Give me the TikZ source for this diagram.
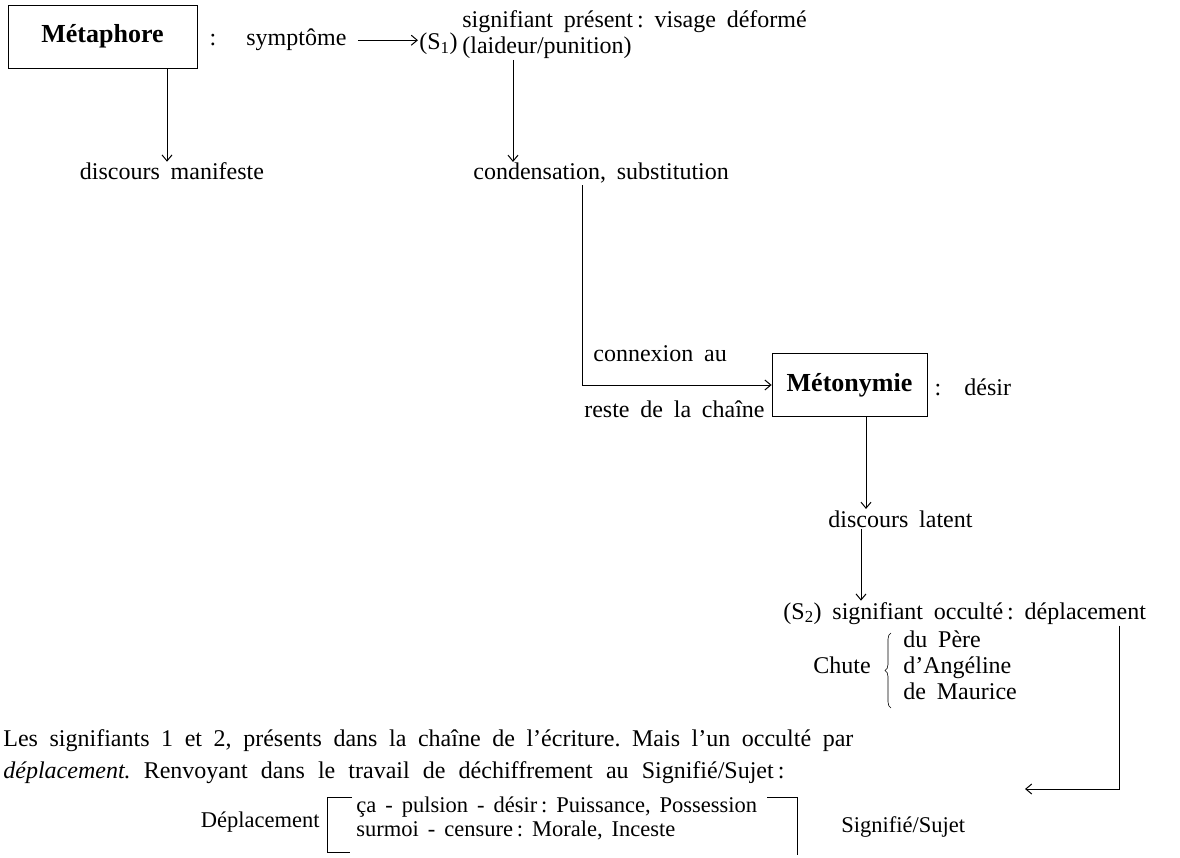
\documentclass[tikz,border=0pt]{standalone}
\usepackage{fontspec}
\setmainfont{Liberation Serif}
\usetikzlibrary{arrows.meta,decorations.pathreplacing}
\frenchspacing

\newcommand\grand{\fontsize{24}{26}\selectfont\spaceskip=.45em plus .2em\relax}
\newcommand\moyen{\fontsize{24}{28}\selectfont}
\newcommand\petit{\fontsize{22.5}{24}\selectfont\spaceskip=.4em plus .2em\relax}

\begin{document}
\begin{tikzpicture}[x=1pt,y=-1pt,line width=0.8pt,>={Straight Barb[length=6pt,width=10pt,line width=1pt]},
  txt/.style={font=\grand, inner sep=1pt},
  boite/.style={draw, font=\fontsize{26}{28}\selectfont\bfseries, minimum height=63pt, inner sep=0pt},
  bas/.style={font=\petit, inner sep=1pt}]
\useasboundingbox (0,0) rectangle (1180,858);

\node[boite, minimum width=189pt] (meta) at (102.5,36.5) {Métaphore};
\node[txt, anchor=base] (col1) at (213,46) {:};
\node[txt, anchor=base west] (sympt) at (245,46) {symptôme};
\node[txt, anchor=base west] (s1) at (418,50) {(S\textsubscript{1})};
\node[txt, anchor=north west, align=left] (sp) at (461,9) {signifiant présent\,: visage déformé\\(laideur/punition)};
\draw[->] ([xshift=10pt]sympt.east) -- (sympt.east -| s1.west);

\node[txt, anchor=base] (dm) at (172,180) {discours manifeste};
\draw[->] (meta.south -| 167,0) -- (167,0 |- dm.north);

\node[txt, anchor=base west] (cond) at (472,180) {condensation, substitution};
\draw[->] ([xshift=52pt]sp.south west) -- ([xshift=52pt]sp.south west |- cond.north);

\node[boite, minimum width=155pt] (meto) at (849.5,385) {Métonymie};
\node[txt, anchor=base west] (conn) at (592,362) {connexion au};
\node[txt, anchor=base east] (reste) at (766,417) {reste de la chaîne};
\node[txt, anchor=base] (col2) at (938,395) {:};
\node[txt, anchor=base west] (desir) at (963,395) {désir};
\draw[->] ([xshift=110pt]cond.south west) |- (meto.west);

\node[txt, anchor=base west] (dl) at (827,527) {discours latent};
\draw[->] (meto.south -| 866,0) -- (866,0 |- dl.north);

\node[txt, anchor=base west] (s2) at (782,619) {(S\textsubscript{2}) signifiant occulté\,: déplacement};
\draw[->] ([xshift=34pt]dl.south west) -- ([xshift=34pt]dl.south west |- s2.north);

\node[txt, anchor=base west] (chute) at (812,673) {Chute};
\node[txt, anchor=north west, align=left] (noms) at (902,629) {du Père\\d’Angéline\\de Maurice};
\draw[decorate, decoration={brace, amplitude=6pt}, line width=0.6pt] (891,708) -- (891,633);

\coordinate (fin) at (1025,789);
\draw[->] ([xshift=-28pt]s2.south east) |- (fin);

\node[inner sep=0pt, font=\moyen, anchor=base west] (par1) at (3,746) {\makebox[850pt][s]{Les signifiants 1 et 2, présents dans la chaîne de l’écriture. Mais l’un occulté par}};
\node[inner sep=0pt, font=\moyen, anchor=base west] (par2) at (3,778) {\makebox[781pt][s]{\textit{déplacement.} Renvoyant dans le travail de déchiffrement au Signifié/Sujet\,:}};

\node[bas, anchor=base east] (depl) at (321,827) {Déplacement};
\node[bas, anchor=north west, align=left] (instances) at (355,795) {ça - pulsion - désir\,: Puissance, Possession\\surmoi - censure\,: Morale, Inceste};
\draw (352,797) -- (327,797) -- (327,852) -- (350,852);
\draw (767,797) -- (797,797) -- (797,855);
\node[bas, anchor=base west] (sig) at (840,832) {Signifié/Sujet};
\end{tikzpicture}
\end{document}
